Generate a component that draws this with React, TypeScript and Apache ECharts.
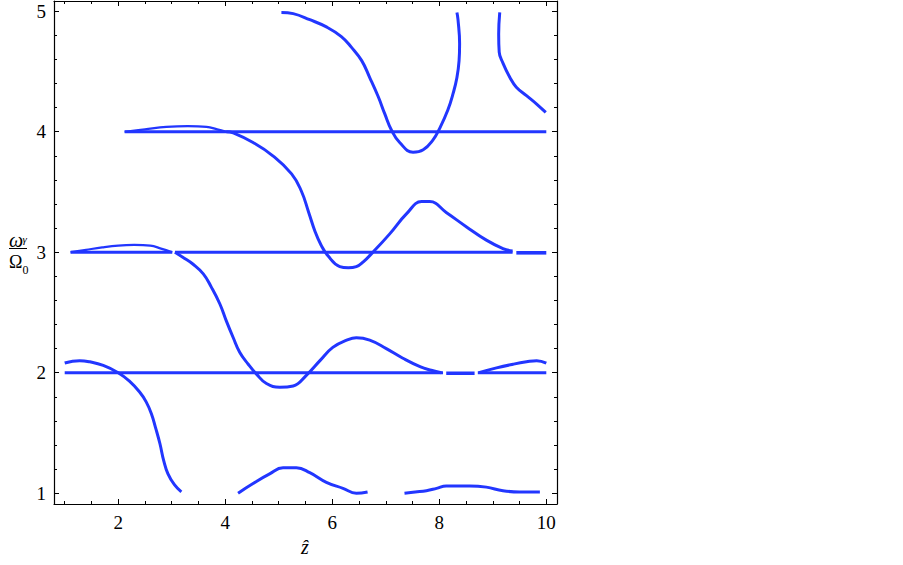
import { useEffect, useRef } from "react";
import * as echarts from "echarts";

// Axis ticks and labels
const X_MAJOR = [2, 4, 6, 8, 10];
const X_MINOR = [1, 1.5, 2.5, 3, 3.5, 4.5, 5, 5.5, 6.5, 7, 7.5, 8.5, 9, 9.5];
const Y_MAJOR = [1, 2, 3, 4, 5];
const Y_MINOR = [1.2, 1.4, 1.6, 1.8, 2.2, 2.4, 2.6, 2.8, 3.2, 3.4, 3.6, 3.8, 4.2, 4.4, 4.6, 4.8];

// Horizontal branches (omega = 2, 3, 4 Omega0)
const lineY2a = [[1.0, 2.0], [8.07, 2.0]];
const lineY2b = [[8.13, 1.995], [8.66, 1.995]];
const lineY2c = [[8.72, 2.0], [10.0, 2.0]];
const lineY3a = [[1.11, 3.0], [3.01, 3.0]];
const lineY3b = [[3.06, 3.0], [9.37, 3.0]];
const lineY3c = [[9.44, 2.995], [10.0, 2.995]];
const lineY4 = [[2.12, 4.0], [10.0, 4.0]];

// Small bumps along the horizontal lines
const bump3 = [[1.11, 3.0], [1.4, 3.02], [1.7, 3.04], [2.0, 3.055], [2.3, 3.06], [2.6, 3.055], [2.8, 3.03], [3.01, 3.0]];
const bump4 = [[2.12, 4.0], [2.5, 4.02], [2.9, 4.04], [3.3, 4.047], [3.65, 4.04], [3.85, 4.02], [4.02, 4.0]];

// Curved branches
const curveA = [[1.0, 2.08], [1.28, 2.1], [1.47, 2.09], [1.72, 2.06], [2.0, 2.0], [2.21, 1.93], [2.4, 1.84], [2.52, 1.76], [2.62, 1.66], [2.7, 1.54], [2.78, 1.41], [2.85, 1.27], [2.93, 1.16], [3.05, 1.07], [3.18, 1.01]];
const curveB = [[3.06, 3.0], [3.2, 2.96], [3.4, 2.9], [3.59, 2.82], [3.74, 2.71], [3.9, 2.57], [4.02, 2.43], [4.15, 2.29], [4.27, 2.17], [4.43, 2.07], [4.58, 1.99], [4.77, 1.91], [5.02, 1.88], [5.27, 1.89], [5.52, 1.98], [5.77, 2.1], [6.01, 2.21], [6.27, 2.27], [6.45, 2.29], [6.7, 2.27], [7.01, 2.2], [7.32, 2.12], [7.64, 2.05], [7.85, 2.02], [8.04, 2.0]];
const curveBRight = [[8.74, 2.0], [9.07, 2.04], [9.38, 2.07], [9.63, 2.09], [9.82, 2.1], [10.0, 2.08]];
const curveC = [[4.02, 4.0], [4.15, 3.99], [4.52, 3.91], [4.89, 3.8], [5.24, 3.65], [5.42, 3.51], [5.56, 3.33], [5.68, 3.17], [5.79, 3.06], [5.92, 2.97], [6.14, 2.88], [6.3, 2.87], [6.45, 2.88], [6.58, 2.92], [6.76, 3.0], [7.07, 3.15], [7.39, 3.32], [7.67, 3.42], [7.82, 3.42], [8.13, 3.33], [8.51, 3.21], [8.88, 3.1], [9.19, 3.03], [9.37, 3.01]];
const curveD = [[4.24, 1.0], [4.52, 1.08], [4.83, 1.16], [5.08, 1.21], [5.33, 1.21], [5.58, 1.17], [5.89, 1.09], [6.2, 1.04], [6.45, 1.0], [6.66, 1.01]];
const curveE = [[7.35, 1.0], [7.55, 1.01], [7.76, 1.02], [7.95, 1.04], [8.13, 1.06], [8.57, 1.06], [8.88, 1.05], [9.19, 1.02], [9.5, 1.01], [9.88, 1.01]];
const curveF = [[5.05, 4.99], [5.27, 4.98], [5.58, 4.93], [5.89, 4.87], [6.17, 4.79], [6.36, 4.7], [6.55, 4.59], [6.7, 4.45], [6.86, 4.29], [6.98, 4.15], [7.11, 4.01], [7.26, 3.91], [7.51, 3.83], [7.7, 3.85], [7.88, 3.93], [8.01, 4.03], [8.16, 4.18], [8.26, 4.32], [8.33, 4.45], [8.37, 4.59], [8.38, 4.73], [8.35, 4.93], [8.33, 4.99]];
const curveG = [[9.13, 4.99], [9.11, 4.81], [9.12, 4.66], [9.19, 4.57], [9.32, 4.45], [9.44, 4.37], [9.63, 4.3], [9.82, 4.23], [9.99, 4.16]];

const X_MIN = 0.8;
const X_MAX = 10.2;
const Y_MIN = 0.91;
const Y_MAX = 5.085;

const BLUE = "#2236ff";
const FONT = "Liberation Serif";

function xAxis(position: string, ticks: number[], len: number, labels: boolean, line: boolean) {
  return {
    type: "value",
    gridIndex: 0,
    position,
    min: X_MIN,
    max: X_MAX,
    axisLine: { show: line, onZero: false, lineStyle: { color: "#000", width: 1.2 } },
    axisTick: { show: true, inside: true, length: len, customValues: ticks, lineStyle: { color: "#000", width: 1 } },
    axisLabel: labels
      ? { show: true, customValues: X_MAJOR, margin: 9, color: "#000", fontFamily: FONT, fontSize: 19 }
      : { show: false },
    splitLine: { show: false },
  };
}

function yAxis(position: string, ticks: number[], len: number, labels: boolean, line: boolean) {
  return {
    type: "value",
    gridIndex: 0,
    position,
    min: Y_MIN,
    max: Y_MAX,
    axisLine: { show: line, onZero: false, lineStyle: { color: "#000", width: 1.2 } },
    axisTick: { show: true, inside: true, length: len, customValues: ticks, lineStyle: { color: "#000", width: 1 } },
    axisLabel: labels
      ? { show: true, customValues: Y_MAJOR, margin: 8, color: "#000", fontFamily: FONT, fontSize: 19 }
      : { show: false },
    splitLine: { show: false },
  };
}

function mk(data: number[][], width = 3, smooth: number | boolean = false) {
  return {
    type: "line",
    xAxisIndex: 0,
    yAxisIndex: 0,
    data,
    showSymbol: false,
    symbol: "none",
    silent: true,
    smooth,
    lineStyle: { color: BLUE, width, cap: "butt", join: "round" },
  };
}

export default function App() {
  const ref = useRef<HTMLDivElement>(null);
  useEffect(() => {
    const chart = echarts.init(ref.current!, null, { renderer: "svg" });
    chart.setOption({
      animation: false,
      backgroundColor: "#fff",
      grid: { left: 54, top: 1, width: 503, height: 503, containLabel: false },
      xAxis: [
        xAxis("bottom", X_MAJOR, 5, true, true),
        xAxis("bottom", X_MINOR, 3, false, false),
        xAxis("top", X_MAJOR, 5, false, true),
        xAxis("top", X_MINOR, 3, false, false),
      ],
      yAxis: [
        yAxis("left", Y_MAJOR, 5, true, true),
        yAxis("left", Y_MINOR, 3, false, false),
        yAxis("right", Y_MAJOR, 5, false, true),
        yAxis("right", Y_MINOR, 3, false, false),
      ],
      series: [
        mk(lineY2a), mk(lineY2b, 3.6), mk(lineY2c),
        mk(lineY3a), mk(lineY3b), mk(lineY3c, 3.6),
        mk(lineY4),
        mk(bump3, 2.2, 0.4), mk(bump4, 2.2, 0.4),
        mk(curveA, 3, 0.45), mk(curveB, 3, 0.45), mk(curveBRight, 3, 0.45), mk(curveC, 3, 0.45),
        mk(curveD, 3, 0.45), mk(curveE, 3, 0.45), mk(curveF, 3, 0.45), mk(curveG, 3, 0.45),
      ],
      graphic: [
        { type: "text", x: 9, y: 240, style: { text: "ω", fontFamily: FONT, fontStyle: "italic", fontSize: 20, fill: "#000", verticalAlign: "middle" } },
        { type: "text", x: 22.5, y: 239, style: { text: "γ", fontFamily: FONT, fontStyle: "italic", fontSize: 11, fill: "#000", verticalAlign: "middle" } },
        { type: "line", shape: { x1: 9, y1: 248.5, x2: 27, y2: 248.5 }, style: { stroke: "#000", lineWidth: 1 } },
        { type: "text", x: 9, y: 262, style: { text: "Ω", fontFamily: FONT, fontSize: 18, fill: "#000", verticalAlign: "middle" } },
        { type: "text", x: 22.5, y: 270, style: { text: "0", fontFamily: FONT, fontSize: 12, fill: "#000", verticalAlign: "middle" } },
        { type: "text", x: 305, y: 547, style: { text: "ẑ", fontFamily: FONT, fontStyle: "italic", fontSize: 20, fill: "#000", align: "center", verticalAlign: "middle" } },
      ],
    });
    return () => chart.dispose();
  }, []);
  return (
    <div
      ref={ref}
      style={{ position: "fixed", left: 0, top: 0, width: 903, height: 565, background: "#fff" }}
    />
  );
}
